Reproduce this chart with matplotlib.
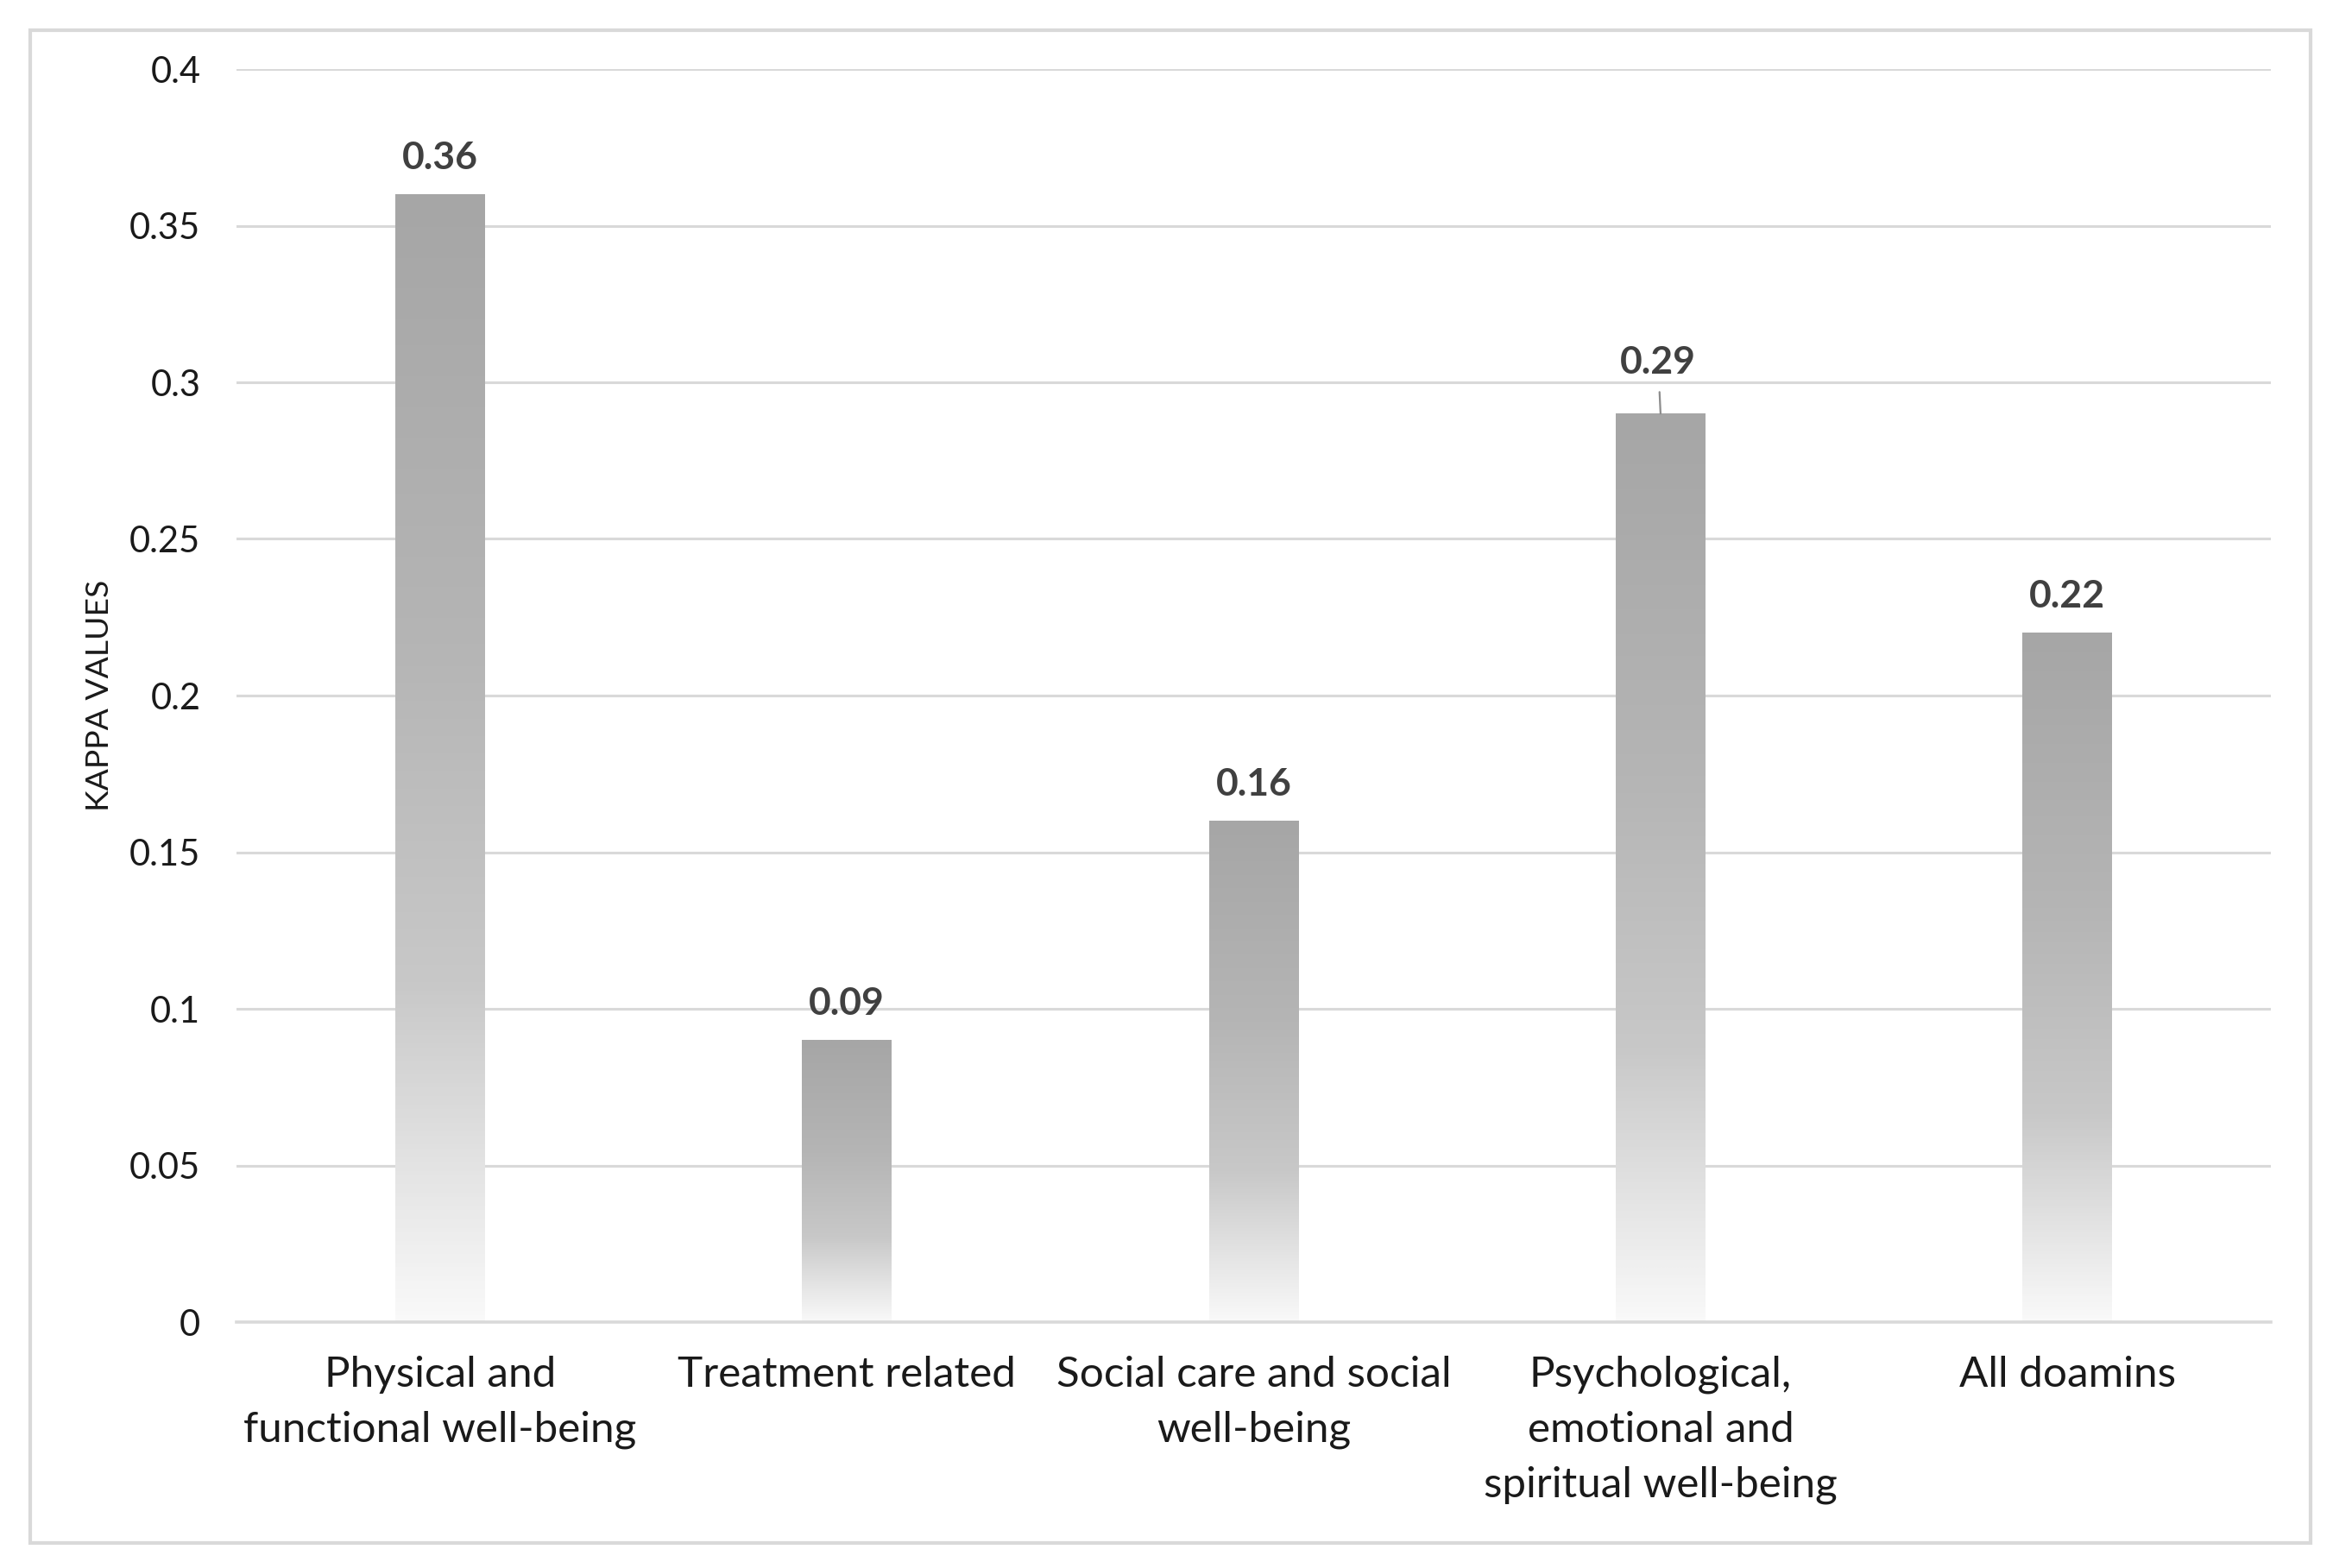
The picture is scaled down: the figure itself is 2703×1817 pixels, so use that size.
import numpy as np
import matplotlib
matplotlib.use("Agg")
import matplotlib.pyplot as plt
from matplotlib.colors import LinearSegmentedColormap
from matplotlib.patches import Rectangle

categories = ["Physical and\nfunctional well-being", "Treatment related",
              "Social care and social\nwell-being",
              "Psychological,\nemotional and\nspiritual well-being", "All doamins"]
values = [0.36, 0.09, 0.16, 0.29, 0.22]
value_labels = ["0.36", "0.09", "0.16", "0.29", "0.22"]
yticks = [0, 0.05, 0.1, 0.15, 0.2, 0.25, 0.3, 0.35, 0.4]
ytick_labels = ["0", "0.05", "0.1", "0.15", "0.2", "0.25", "0.3", "0.35", "0.4"]

plt.rcParams['font.family'] = ['Lato', 'DejaVu Sans']

W, H, DPI = 2703, 1817, 200
fig = plt.figure(figsize=(W / DPI, H / DPI), dpi=DPI)
fig.patch.set_facecolor("white")

ax = fig.add_axes([274 / W, 1 - 1532 / H, (2631 - 274) / W, (1532 - 80) / H])

# outer border
fig.patches.append(Rectangle((35 / W, 1 - 1788 / H), (2677 - 35) / W, (1788 - 35) / H,
                             transform=fig.transFigure, fill=False,
                             edgecolor="#D9D9D9", linewidth=1.5, zorder=0))

x = np.arange(len(categories))
bw = 0.22
bars = ax.bar(x, values, width=bw, color="none", edgecolor="none", zorder=2)

cmap = LinearSegmentedColormap.from_list(
    "g", [(0.0, "#F9F9F9"), (0.12, "#E6E6E6"), (0.3, "#C8C8C8"),
          (0.6, "#B5B5B5"), (1.0, "#A6A6A6")])
grad = np.linspace(0, 1, 256).reshape(-1, 1)
for b in bars:
    x0, w, h = b.get_x(), b.get_width(), b.get_height()
    ax.imshow(grad, cmap=cmap, origin="lower", aspect="auto",
              extent=(x0, x0 + w, 0, h), zorder=2, interpolation="bilinear")

ax.set_xlim(-0.5, len(categories) - 0.5)
ax.set_ylim(0, 0.4)
ax.set_yticks(yticks)
ax.set_yticklabels(ytick_labels)
ax.set_xticks(x)
ax.set_xticklabels(categories, fontsize=17.8, color="#1A1A1A", linespacing=1.55, va="top")
ax.tick_params(axis="y", length=0, pad=15, labelsize=15, labelcolor="#1A1A1A")
ax.tick_params(axis="x", length=0, pad=14)
ax.grid(axis="y", color="#D9D9D9", linewidth=1.1, zorder=0)
ax.set_axisbelow(True)
for s in ["top", "right", "left"]:
    ax.spines[s].set_visible(False)
ax.spines["bottom"].set_color("#D9D9D9")
ax.spines["bottom"].set_linewidth(1.3)

ax.set_ylabel("KAPPA VALUES", fontsize=13.4, color="#1A1A1A")
ax.yaxis.set_label_coords(-(274 - 132) / (2631 - 274), 0.5)

for i, (v, lab) in enumerate(zip(values, value_labels)):
    if lab == "0.29":
        ax.annotate(lab, xy=(x[i], v), xytext=(-1, 14), textcoords="offset points",
                    ha="center", va="bottom", fontsize=16, fontweight="bold",
                    color="#404040",
                    arrowprops=dict(arrowstyle="-", color="#8C8C8C", lw=0.8,
                                    shrinkA=3, shrinkB=0))
    else:
        ax.annotate(lab, xy=(x[i], v), xytext=(0, 8), textcoords="offset points",
                    ha="center", va="bottom", fontsize=16, fontweight="bold",
                    color="#404040")

fig.savefig("out.png", dpi=DPI, facecolor="white")
